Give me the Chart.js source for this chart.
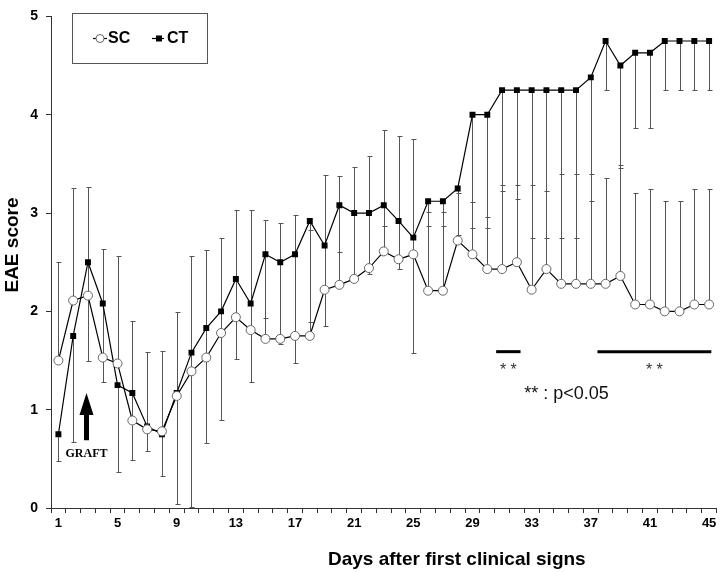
<!DOCTYPE html>
<html><head><meta charset="utf-8">
<script src="https://cdn.jsdelivr.net/npm/chart.js@4.4.1/dist/chart.umd.min.js"></script>
<style>html,body{margin:0;padding:0;background:#fff}canvas{display:block}</style>
</head><body>
<canvas id="c" width="722" height="572"></canvas>
<script>
// ---- data ----
const days = [1,2,3,4,5,6,7,8,9,10,11,12,13,14,15,16,17,18,19,20,21,22,23,24,25,26,27,28,29,30,31,32,33,34,35,36,37,38,39,40,41,42,43,44,45];
const scMean = [1.5,2.11,2.16,1.53,1.47,0.89,0.8,0.78,1.14,1.39,1.53,1.78,1.94,1.81,1.72,1.72,1.75,1.75,2.22,2.27,2.33,2.44,2.61,2.53,2.58,2.21,2.21,2.72,2.58,2.43,2.43,2.5,2.22,2.43,2.28,2.28,2.28,2.28,2.36,2.07,2.07,2.0,2.0,2.07,2.07];
const ctMean = [0.75,1.75,2.5,2.08,1.25,1.17,0.83,0.75,1.17,1.58,1.83,2.0,2.33,2.08,2.58,2.5,2.58,2.92,2.67,3.08,3.0,3.0,3.08,2.92,2.75,3.12,3.12,3.25,4.0,4.0,4.25,4.25,4.25,4.25,4.25,4.25,4.38,4.75,4.5,4.63,4.63,4.75,4.75,4.75,4.75];
const scUpper = [2.5,3.25,3.26,2.63,2.56,1.9,1.59,1.6,1.99,2.56,2.62,2.75,3.03,3.03,2.93,2.9,2.98,2.83,3.39,3.38,3.47,3.58,3.84,3.78,3.75,3.01,3.01,3.2,3.11,2.96,3.29,3.29,3.29,3.22,3.4,3.4,3.4,3.36,3.49,3.2,3.24,3.12,3.12,3.24,3.24];
const ctLower = [0.48,0.67,1.5,1.28,0.37,0.49,0.58,0.33,0.04,0.01,0.66,0.9,1.52,1.28,1.93,1.67,1.47,1.89,1.85,2.6,2.35,2.38,2.87,2.43,1.58,2.87,2.87,2.78,2.85,2.85,3.22,3.14,2.75,2.75,2.75,2.75,3.12,4.25,3.46,3.87,3.87,4.25,4.25,4.25,4.25];
const xTickLabels = ['1','5','9','13','17','21','25','29','33','37','41','45'];
const yTickValues = [0,1,2,3,4,5];
const sigBars = [[30.6,32.25],[37.45,45.15]];
const sigLevel = 1.59;
const graftDay = 2.9, graftTip = 1.17, graftTail = 0.69;
const pNoteDay = 32.5, pNoteLevel = 1.17;

const SANS = '"Liberation Sans", Arial, sans-serif';

const errorBars = {
  id: 'errorBars',
  beforeDatasetsDraw(chart) {
    const {ctx, scales: {x, y}} = chart;
    ctx.save();
    ctx.strokeStyle = '#555';
    ctx.lineWidth = 1;
    const cap = 2;
    const bar = (d, from, to) => {
      const px = Math.round(x.getPixelForValue(d)) + 0.5;
      const y1 = y.getPixelForValue(from);
      const y2 = Math.round(y.getPixelForValue(to)) + 0.5;
      ctx.beginPath();
      ctx.moveTo(px, y1); ctx.lineTo(px, y2);
      ctx.moveTo(px - cap, y2); ctx.lineTo(px + cap + 1, y2);
      ctx.stroke();
    };
    days.forEach((d, i) => { bar(d, scMean[i], scUpper[i]); bar(d, ctMean[i], ctLower[i]); });
    ctx.restore();
  }
};

const annotations = {
  id: 'annotations',
  afterDraw(chart) {
    const {ctx, scales: {x, y}} = chart;
    ctx.save();
    // legend box
    ctx.strokeStyle = '#555'; ctx.lineWidth = 1;
    ctx.strokeRect(72.5, 13.5, 135, 50);
    ctx.strokeStyle = '#000'; ctx.lineWidth = 1.2;
    ctx.beginPath(); ctx.moveTo(93, 38.5); ctx.lineTo(107, 38.5); ctx.stroke();
    ctx.beginPath(); ctx.arc(100, 38.5, 4, 0, Math.PI * 2);
    ctx.fillStyle = '#fff'; ctx.fill(); ctx.strokeStyle = '#666'; ctx.lineWidth = 1; ctx.stroke();
    ctx.strokeStyle = '#000'; ctx.lineWidth = 1.2;
    ctx.beginPath(); ctx.moveTo(152, 38.5); ctx.lineTo(164, 38.5); ctx.stroke();
    ctx.fillStyle = '#000'; ctx.fillRect(156, 35.5, 6, 6);
    ctx.font = 'bold 16px ' + SANS; ctx.textBaseline = 'middle'; ctx.textAlign = 'left';
    ctx.fillText('SC', 108, 39);
    ctx.fillText('CT', 167, 39);

    // axis titles
    ctx.font = 'bold 19px ' + SANS;
    ctx.textBaseline = 'alphabetic';
    ctx.fillText('Days after first clinical signs', 328, 565);
    ctx.save();
    ctx.translate(18, 245); ctx.rotate(-Math.PI / 2);
    ctx.textAlign = 'center';
    ctx.fillText('EAE score', 0, 0);
    ctx.restore();

    // GRAFT arrow
    const ax = x.getPixelForValue(graftDay);
    const tip = y.getPixelForValue(graftTip), tail = y.getPixelForValue(graftTail);
    ctx.beginPath();
    ctx.moveTo(ax, tip);
    ctx.lineTo(ax + 7, tip + 22);
    ctx.lineTo(ax + 2.5, tip + 22);
    ctx.lineTo(ax + 2.5, tail);
    ctx.lineTo(ax - 2.5, tail);
    ctx.lineTo(ax - 2.5, tip + 22);
    ctx.lineTo(ax - 7, tip + 22);
    ctx.closePath();
    ctx.fillStyle = '#000'; ctx.fill();
    ctx.font = 'bold 12px "Liberation Serif", "Times New Roman", serif';
    ctx.textAlign = 'center';
    ctx.fillText('GRAFT', ax, tail + 17);

    // significance bars
    const sy = y.getPixelForValue(sigLevel);
    ctx.strokeStyle = '#000'; ctx.lineWidth = 3;
    sigBars.forEach(([a, b]) => {
      const xa = x.getPixelForValue(a), xb = x.getPixelForValue(b);
      ctx.beginPath(); ctx.moveTo(xa, sy); ctx.lineTo(xb, sy); ctx.stroke();
      ctx.font = '16px ' + SANS; ctx.fillStyle = '#333'; ctx.textAlign = 'center';
      ctx.fillText('* *', (xa + xb) / 2, sy + 23);
    });
    ctx.font = '18px ' + SANS; ctx.fillStyle = '#111'; ctx.textAlign = 'left';
    ctx.fillText('** : p<0.05', x.getPixelForValue(pNoteDay), y.getPixelForValue(pNoteLevel) + 6.5);
    ctx.restore();
  }
};

new Chart(document.getElementById('c'), {
  type: 'line',
  data: {
    datasets: [
      {
        label: 'SC',
        data: days.map((d, i) => ({x: d, y: scMean[i]})),
        borderColor: '#000', borderWidth: 1.2,
        pointStyle: 'circle', pointRadius: 4.5, pointBackgroundColor: '#fff',
        pointBorderColor: '#666', pointBorderWidth: 1, tension: 0
      },
      {
        label: 'CT',
        data: days.map((d, i) => ({x: d, y: ctMean[i]})),
        borderColor: '#000', borderWidth: 1.2,
        pointStyle: 'rect', pointRadius: 4.2, pointBackgroundColor: '#000',
        pointBorderColor: '#000', pointBorderWidth: 0, tension: 0
      }
    ]
  },
  options: {
    responsive: false, animation: false, devicePixelRatio: 1,
    layout: {padding: {top: 9, right: 4, left: 0, bottom: 0}},
    plugins: {legend: {display: false}, tooltip: {enabled: false}},
    scales: {
      x: {
        type: 'linear', min: 0.5, max: 45.5,
        afterBuildTicks: s => { s.ticks = days.map(v => ({value: v})); },
        afterFit: s => { s.height = 64; },
        grid: {display: true, offset: true, drawOnChartArea: false, drawTicks: true, tickLength: 5, color: '#333'},
        border: {display: true, color: '#333', width: 1},
        ticks: {
          autoSkip: false, maxRotation: 0, padding: 3, color: '#000',
          font: {family: SANS, size: 13, weight: 'bold'},
          callback: v => xTickLabels.includes(String(v)) ? String(v) : ''
        }
      },
      y: {
        min: 0, max: 5,
        afterBuildTicks: s => { s.ticks = yTickValues.map(v => ({value: v})); },
        afterFit: s => { s.width = 51; },
        grid: {display: true, drawOnChartArea: false, drawTicks: true, tickLength: 5, color: '#333'},
        border: {display: true, color: '#333', width: 1},
        ticks: {padding: 8, color: '#000', font: {family: SANS, size: 14, weight: 'bold'}}
      }
    }
  },
  plugins: [errorBars, annotations]
});
</script>
</body></html>
